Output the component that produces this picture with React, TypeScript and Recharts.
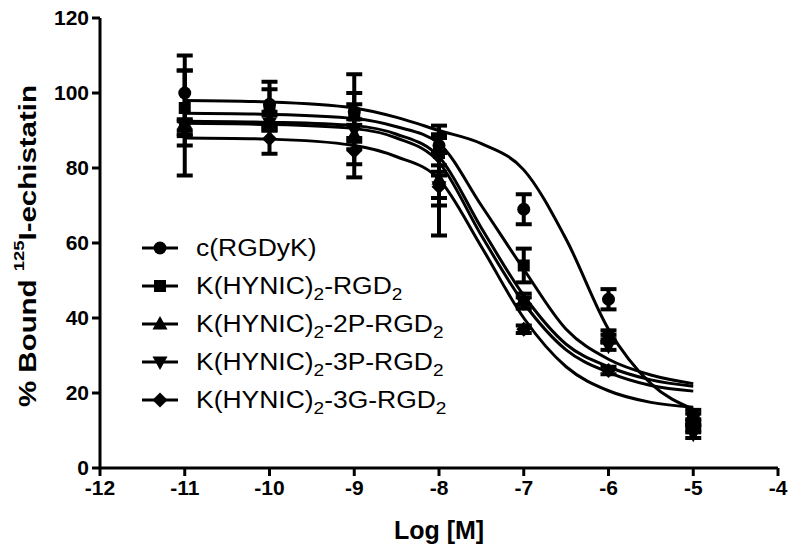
import React from 'react';
import { ComposedChart, XAxis, YAxis, Line, Scatter, ErrorBar, Legend } from 'recharts';

// measured doses (log M) and read-off means / error bars
const LOG_DOSE = [-11, -10, -9, -8, -7, -6, -5];

const rgdykMean = [100, 97, 95, 86, 69, 45, 14];
const rgdykErr = [10, 6, 10, 5.3, 4, 2.7, 1.5];
const rgd2Mean = [96, 95.5, 94, 84, 54, 35.5, 13];
const rgd2Err = [10, 5.5, 6, 5, 4.5, 1.2, 1.5];
const p2Mean = [92, 93, 89, 77, 45, 34.5, 12];
const p2Err = [14, 2, 8, 7, 1.5, 1, 1];
const p3Mean = [91, 92, 90, 75, 44, 32.5, 9];
const p3Err = [2, 2, 3, 3, 1.5, 1, 1];
const g3Mean = [90.5, 87.8, 84.5, 75, 37, 26, 10.5];
const g3Err = [2, 4, 7, 13, 1, 1, 1];

// fitted curves
const FIT_DOSE = [-11, -10, -9, -8.5, -8, -7.5, -7, -6.5, -6, -5.5, -5];
const rgdykFit = [98, 97.6, 96, 93.5, 90, 86.5, 79.5, 61, 37, 22.5, 15.7];
const rgd2Fit = [94.6, 94.3, 93.2, 91, 86.5, 70, 53, 37, 29, 24.8, 22.5];
const p2Fit = [92.5, 92.2, 91.3, 89, 83, 64, 46, 33, 27, 23.5, 21.8];
const p3Fit = [91.9, 91.6, 90.5, 88, 81.5, 62, 44, 31.5, 25.5, 22, 20.5];
const g3Fit = [88, 87.7, 86, 83, 77, 59, 40, 27, 20.6, 17.5, 16.2];

const X_TICKS = [-12, -11, -10, -9, -8, -7, -6, -5, -4];
const Y_TICKS = [0, 20, 40, 60, 80, 100, 120];

type Marker = 'circle' | 'square' | 'triangle' | 'triangleDown' | 'diamond';

const SERIES: { key: string; label: string; marker: Marker; mean: number[]; err: number[]; fit: number[] }[] = [
  { key: 'rgdyk', label: 'c(RGDyK)', marker: 'circle', mean: rgdykMean, err: rgdykErr, fit: rgdykFit },
  { key: 'rgd2', label: 'K(HYNIC)_2-RGD_2', marker: 'square', mean: rgd2Mean, err: rgd2Err, fit: rgd2Fit },
  { key: 'p2', label: 'K(HYNIC)_2-2P-RGD_2', marker: 'triangle', mean: p2Mean, err: p2Err, fit: p2Fit },
  { key: 'p3', label: 'K(HYNIC)_2-3P-RGD_2', marker: 'triangleDown', mean: p3Mean, err: p3Err, fit: p3Fit },
  { key: 'g3', label: 'K(HYNIC)_2-3G-RGD_2', marker: 'diamond', mean: g3Mean, err: g3Err, fit: g3Fit },
];

const FONT = '"Liberation Sans", Arial, Helvetica, sans-serif';

function drawMarker(type: Marker, cx: number, cy: number) {
  switch (type) {
    case 'circle':
      return <circle cx={cx} cy={cy} r={6.5} fill="#000" />;
    case 'square':
      return <rect x={cx - 6} y={cy - 6} width={12} height={12} fill="#000" />;
    case 'triangle':
      return <polygon points={`${cx},${cy - 8} ${cx + 7.5},${cy + 5.5} ${cx - 7.5},${cy + 5.5}`} fill="#000" />;
    case 'triangleDown':
      return <polygon points={`${cx},${cy + 8} ${cx + 7.5},${cy - 5.5} ${cx - 7.5},${cy - 5.5}`} fill="#000" />;
    default:
      return <polygon points={`${cx},${cy - 7.5} ${cx + 7.5},${cy} ${cx},${cy + 7.5} ${cx - 7.5},${cy}`} fill="#000" />;
  }
}

function renderLabel(label: string) {
  const parts = label.split(/_(\d)/);
  return parts.map((p, i) =>
    i % 2 === 1 ? (
      <span key={i} style={{ fontSize: '0.72em', position: 'relative', top: '0.38em' }}>
        {p}
      </span>
    ) : (
      <span key={i}>{p}</span>
    )
  );
}

function LegendBox() {
  return (
    <div style={{ fontFamily: FONT, fontSize: 23, color: '#000' }}>
      {SERIES.map((s) => (
        <div key={s.key} style={{ display: 'flex', alignItems: 'center', height: 38 }}>
          <svg width={40} height={20} style={{ display: 'block' }}>
            <line x1={2} y1={10} x2={38} y2={10} stroke="#000" strokeWidth={3} />
            {drawMarker(s.marker, 20, 10)}
          </svg>
          <span
            style={{
              marginLeft: 16,
              display: 'inline-block',
              whiteSpace: 'nowrap',
              lineHeight: 1,
              transform: 'scaleX(1.15)',
              transformOrigin: 'left center',
            }}
          >
            {renderLabel(s.label)}
          </span>
        </div>
      ))}
    </div>
  );
}

function YTitle(props: any) {
  const vb = props.viewBox || { x: 0, y: 18, width: 100, height: 450 };
  const cx = 27;
  const cy = vb.y + vb.height / 2 + 3;
  return (
    <text
      x={cx}
      y={cy}
      transform={`rotate(-90, ${cx}, ${cy})`}
      textAnchor="middle"
      dominantBaseline="central"
      fontFamily={FONT}
      fontWeight="bold"
      fontSize={24}
      fill="#000"
      textLength={322}
      lengthAdjust="spacingAndGlyphs"
    >
      {'% Bound '}
      <tspan fontSize={15} dy={-9}>
        125
      </tspan>
      <tspan dy={9}>I-echistatin</tspan>
    </text>
  );
}

const axisStroke = { stroke: '#000', strokeWidth: 3 };
const tickStyle = { fill: '#000', fontSize: 21, fontWeight: 'bold', fontFamily: FONT };

export default function App() {
  return (
    <div style={{ position: 'absolute', left: 0, top: 0, width: 800, height: 555, background: '#fff' }}>
      <ComposedChart width={800} height={555} margin={{ top: 18, right: 22, bottom: 0, left: 0 }}>
        <XAxis
          type="number"
          dataKey="x"
          domain={[-12, -4]}
          ticks={X_TICKS}
          interval={0}
          height={87}
          tickSize={8}
          tickMargin={4}
          axisLine={axisStroke}
          tickLine={axisStroke}
          tick={tickStyle}
          label={{
            value: 'Log [M]',
            position: 'insideBottom',
            offset: 16,
            style: { fill: '#000', fontSize: 25, fontWeight: 'bold', fontFamily: FONT },
          }}
        />
        <YAxis
          type="number"
          dataKey="y"
          domain={[0, 120]}
          ticks={Y_TICKS}
          interval={0}
          width={100}
          tickSize={8}
          tickMargin={3}
          axisLine={axisStroke}
          tickLine={axisStroke}
          tick={tickStyle}
          label={{ content: (p: any) => <YTitle {...p} /> }}
        />
        {SERIES.map((s) => (
          <Line
            key={`fit-${s.key}`}
            data={FIT_DOSE.map((x, i) => ({ x, y: s.fit[i] }))}
            dataKey="y"
            type="monotone"
            stroke="#000"
            strokeWidth={3}
            dot={false}
            activeDot={false}
            legendType="none"
            isAnimationActive={false}
          />
        ))}
        {SERIES.map((s) => (
          <Scatter
            key={`pts-${s.key}`}
            name={s.label}
            data={LOG_DOSE.map((x, i) => ({ x, y: s.mean[i], err: s.err[i] }))}
            dataKey="y"
            fill="#000"
            shape={(p: any) => drawMarker(s.marker, p.cx, p.cy)}
            isAnimationActive={false}
          >
            <ErrorBar dataKey="err" direction="y" width={8} strokeWidth={4} stroke="#000" />
          </Scatter>
        ))}
        <Legend
          layout="vertical"
          align="center"
          verticalAlign="middle"
          content={() => <LegendBox />}
          wrapperStyle={{ left: 140, top: 229, width: 'auto', height: 'auto' }}
        />
      </ComposedChart>
    </div>
  );
}
